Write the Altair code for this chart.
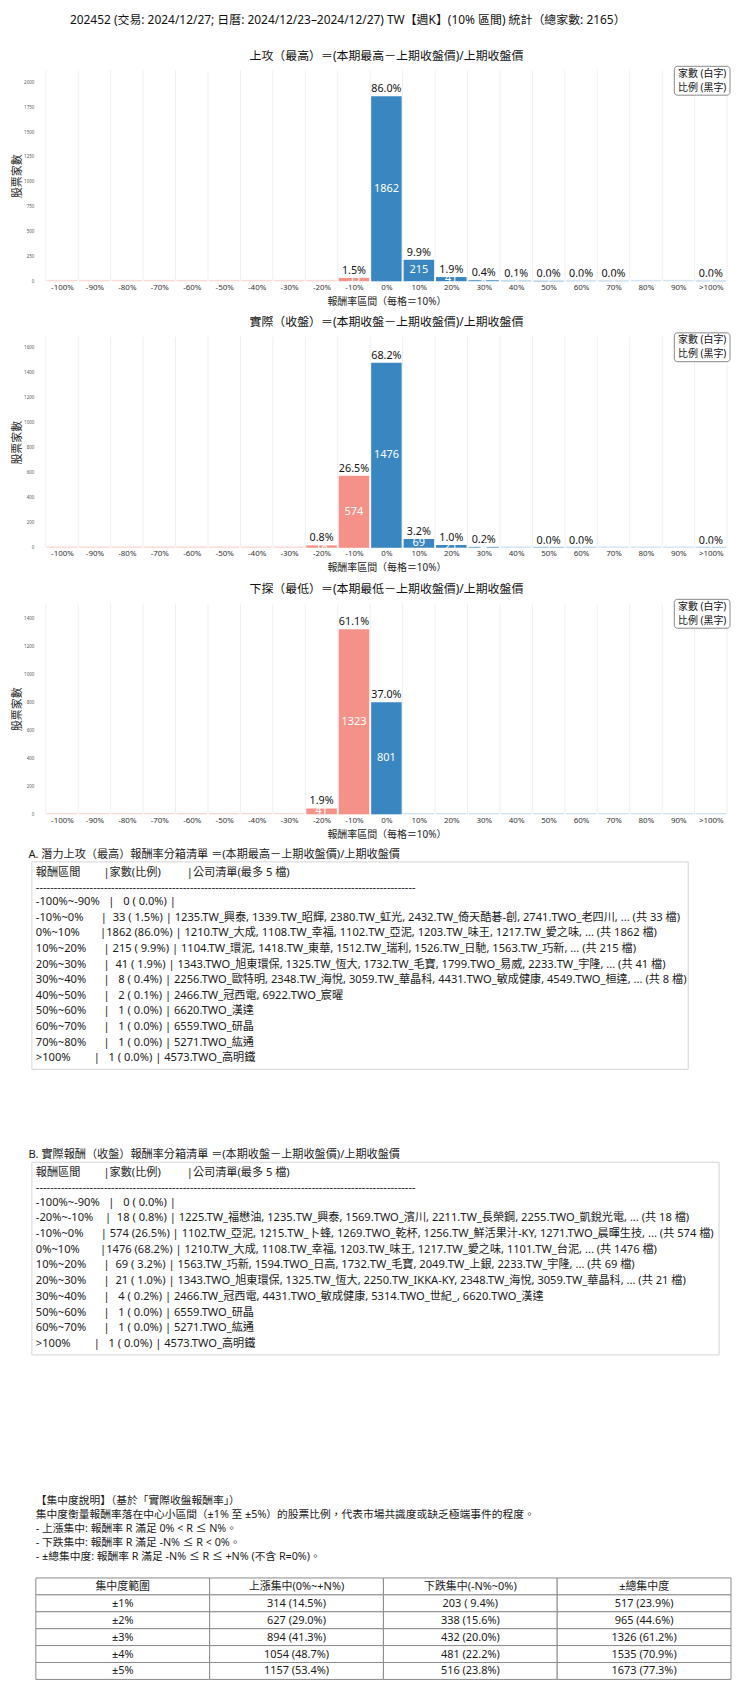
import altair as alt
import pandas as pd

FONT = 'Noto Sans, Noto Sans CJK TC'
NB = '\u00a0'
TOTAL = 2165
RED = '#f4928a'
BLUE = '#3a86c0'
RED_FAINT = '#fbdad6'
BLUE_FAINT = '#d3e5f3'

# ---- data -------------------------------------------------------------
bin_labels = ['-100%', '-90%', '-80%', '-70%', '-60%', '-50%', '-40%', '-30%', '-20%', '-10%',
              '0%', '10%', '20%', '30%', '40%', '50%', '60%', '70%', '80%', '90%', '>100%']
range_labels = ['-100%~-90%', '-90%~-80%', '-80%~-70%', '-70%~-60%', '-60%~-50%', '-50%~-40%',
                '-40%~-30%', '-30%~-20%', '-20%~-10%', '-10%~0%', '0%~10%', '10%~20%',
                '20%~30%', '30%~40%', '40%~50%', '50%~60%', '60%~70%', '70%~80%',
                '80%~90%', '90%~100%', '>100%']

high_counts = [0, 0, 0, 0, 0, 0, 0, 0, 0, 33, 1862, 215, 41, 8, 2, 1, 1, 1, 0, 0, 1]
close_counts = [0, 0, 0, 0, 0, 0, 0, 0, 18, 574, 1476, 69, 21, 4, 0, 1, 1, 0, 0, 0, 1]
low_counts = [0, 0, 0, 0, 0, 0, 0, 0, 41, 1323, 801, 0, 0, 0, 0, 0, 0, 0, 0, 0, 0]

high_companies = {
    '-10%~0%': '1235.TW_興泰, 1339.TW_昭輝, 2380.TW_虹光, 2432.TW_倚天酷碁-創, 2741.TWO_老四川',
    '0%~10%': '1210.TW_大成, 1108.TW_幸福, 1102.TW_亞泥, 1203.TW_味王, 1217.TW_愛之味',
    '10%~20%': '1104.TW_環泥, 1418.TW_東華, 1512.TW_瑞利, 1526.TW_日馳, 1563.TW_巧新',
    '20%~30%': '1343.TWO_旭東環保, 1325.TW_恆大, 1732.TW_毛寶, 1799.TWO_易威, 2233.TW_宇隆',
    '30%~40%': '2256.TWO_歐特明, 2348.TW_海悅, 3059.TW_華晶科, 4431.TWO_敏成健康, 4549.TWO_桓達',
    '40%~50%': '2466.TW_冠西電, 6922.TWO_宸曜',
    '50%~60%': '6620.TWO_漢達',
    '60%~70%': '6559.TWO_研晶',
    '70%~80%': '5271.TWO_紘通',
    '>100%': '4573.TWO_高明鐵',
}
close_companies = {
    '-20%~-10%': '1225.TW_福懋油, 1235.TW_興泰, 1569.TWO_濱川, 2211.TW_長榮鋼, 2255.TWO_凱銳光電',
    '-10%~0%': '1102.TW_亞泥, 1215.TW_卜蜂, 1269.TWO_乾杯, 1256.TW_鮮活果汁-KY, 1271.TWO_晨暉生技',
    '0%~10%': '1210.TW_大成, 1108.TW_幸福, 1203.TW_味王, 1217.TW_愛之味, 1101.TW_台泥',
    '10%~20%': '1563.TW_巧新, 1594.TWO_日高, 1732.TW_毛寶, 2049.TW_上銀, 2233.TW_宇隆',
    '20%~30%': '1343.TWO_旭東環保, 1325.TW_恆大, 2250.TW_IKKA-KY, 2348.TW_海悅, 3059.TW_華晶科',
    '30%~40%': '2466.TW_冠西電, 4431.TWO_敏成健康, 5314.TWO_世紀_, 6620.TWO_漢達',
    '50%~60%': '6559.TWO_研晶',
    '60%~70%': '5271.TWO_紘通',
    '>100%': '4573.TWO_高明鐵',
}

conc_ranges = ['±1%', '±2%', '±3%', '±4%', '±5%']
conc_up = [314, 627, 894, 1054, 1157]
conc_down = [203, 338, 432, 481, 516]
conc_total = [517, 965, 1326, 1535, 1673]
conc_header = ['集中度範圍', '上漲集中(0%~+N%)', '下跌集中(-N%~0%)', '±總集中度']

main_title = '202452 (交易: 2024/12/27; 日曆: 2024/12/23–2024/12/27) TW【週K】(10% 區間) 統計（總家數: 2165）'
chart_titles = ['上攻（最高）＝(本期最高－上期收盤價)/上期收盤價',
                '實際（收盤）＝(本期收盤－上期收盤價)/上期收盤價',
                '下探（最低）＝(本期最低－上期收盤價)/上期收盤價']
x_title = '報酬率區間（每格＝10%）'
heading_a = 'A. 潛力上攻（最高）報酬率分箱清單 ＝(本期最高－上期收盤價)/上期收盤價'
heading_b = 'B. 實際報酬（收盤）報酬率分箱清單 ＝(本期收盤－上期收盤價)/上期收盤價'
notes = ['【集中度說明】（基於「實際收盤報酬率」）',
         '集中度衡量報酬率落在中心小區間（±1% 至 ±5%）的股票比例，代表市場共識度或缺乏極端事件的程度。',
         ' - 上漲集中: 報酬率 R 滿足 0% < R ≤ N%。',
         ' - 下跌集中: 報酬率 R 滿足 -N% ≤ R < 0%。',
         ' - ±總集中度: 報酬率 R 滿足 -N% ≤ R ≤ +N% (不含 R=0%)。']

# ---- layout -----------------------------------------------------------
W = 685
H = 212
PLOT_LEFT = 45      # page x of the plot area
PANEL_TOP = 830     # page y of the text panel


def hist_chart(counts, title):
    df = pd.DataFrame({'idx': list(range(21)), 'label': bin_labels, 'count': counts})
    ymax = max(counts) * 1.14
    step = 250 if max(counts) > 1700 else 200
    xs = alt.Scale(domain=[0, 21], nice=False, zero=False)
    ys = alt.Scale(domain=[0, ymax], nice=False)
    labels_js = '[' + ','.join("'%s'" % s for s in bin_labels) + ']'
    is_neg = 'datum.idx < 10'
    xa = alt.Axis(values=[i + 0.5 for i in range(21)], labelExpr=labels_js + '[floor(datum.value)]',
                  title=x_title, grid=False, domain=False, ticks=False, labelFontSize=8,
                  labelColor='#333', labelPadding=2, titleFontSize=10, titlePadding=5,
                  titleColor='#222', labelOverlap=False, titleFontWeight='normal', zindex=1)
    ya = alt.Axis(values=list(range(0, int(ymax) + 1, step)), format='d', title='股票家數',
                  grid=False, domain=False, ticks=False, labelFontSize=4.5, labelColor='#555',
                  labelPadding=12, titleFontSize=11, titlePadding=1, titleColor='#222',
                  titleFontWeight='normal')

    base = alt.Chart(df).transform_calculate(
        x0='datum.idx + 0.03', x1='datum.idx + 0.97', xc='datum.idx + 0.5',
        zero='0', half='datum.count / 2',
        pct="format(datum.count / %d * 100, '.1f') + '%%'" % TOTAL)

    grid = alt.Chart(pd.DataFrame({'edge': list(range(22))})).mark_rule(
        color='#efefef', strokeWidth=1).encode(
        x=alt.X('edge:Q', scale=xs, axis=xa), y=alt.value(0), y2=alt.value(H))

    floor = base.mark_rule(strokeWidth=1.5).encode(
        x=alt.X('x0:Q', scale=xs, axis=xa), x2='x1:Q', y=alt.value(H - 0.5),
        color=alt.condition(is_neg, alt.value(RED_FAINT), alt.value(BLUE_FAINT)))

    bars = base.mark_bar().encode(
        x=alt.X('x0:Q', scale=xs, axis=xa), x2='x1:Q',
        y=alt.Y('count:Q', scale=ys, axis=ya), y2='zero:Q',
        color=alt.condition(is_neg, alt.value(RED), alt.value(BLUE)))

    nz = base.transform_filter('datum.count > 0')
    pct = nz.mark_text(baseline='bottom', dy=-2, fontSize=10.8, color='#111').encode(
        x=alt.X('xc:Q', scale=xs, axis=xa), y=alt.Y('count:Q', scale=ys, axis=ya),
        text='pct:N')
    num = nz.mark_text(baseline='middle', fontSize=11, color='white').encode(
        x=alt.X('xc:Q', scale=xs, axis=xa), y=alt.Y('half:Q', scale=ys, axis=ya),
        text='count:Q')

    one = pd.DataFrame({'t': ['家數 (白字)\n比例 (黑字)']})
    box = alt.Chart(one).mark_rect(fill='white', stroke='#888', strokeWidth=1,
                                   cornerRadius=3).encode(
        x=alt.value(632), x2=alt.value(688), y=alt.value(-4), y2=alt.value(25))
    box_text = alt.Chart(one).mark_text(lineBreak='\n', lineHeight=14, fontSize=10,
                                        color='#111', baseline='middle').encode(
        x=alt.value(660), y=alt.value(3.5), text='t:N')

    return alt.layer(grid, floor, bars, pct, num, box, box_text).properties(
        width=W, height=H,
        title=alt.TitleParams(title, fontSize=12, fontWeight='normal', offset=3,
                              anchor='middle', color='#111'))


def row_text(i, counts, companies):
    c = counts[i]
    p = '%.1f%%' % (c / TOTAL * 100)
    s = '%s|%4d (%5s) |' % (range_labels[i].ljust(13), c, p)
    names = companies.get(range_labels[i])
    if names:
        s += ' ' + names
        if c > 5:
            s += ', ... (共 %d 檔)' % c
    return s


# ---- text panel -------------------------------------------------------
lines = []
cells = []
boxes = []


def add(x, y, t, fs=11.2, align='left'):
    lines.append({'x': x, 'y': y, 't': t.replace(' ', NB), 'fs': fs, 'al': align})


header = '報酬區間' + ' ' * 8 + '|家數(比例)' + ' ' * 9 + '|公司清單(最多 5 檔)'
dashes = '-' * 106

for heading, counts, comp, top, lh, right in [
        (heading_a, high_counts, high_companies, 842, 15.7, 691),
        (heading_b, close_counts, close_companies, 1144, 15.8, 722)]:
    add(27.5, top - 7, heading, 11.2)
    add(35, top + 11, header)
    add(35, top + 26, dashes)
    rows = [0] + [i for i in range(21) if counts[i] > 0]
    y = top + 40.5
    for k, i in enumerate(rows):
        add(35, y + k * lh, row_text(i, counts, comp))
    boxes.append({'x': 31, 'x2': right, 'y': top, 'y2': y + (len(rows) - 1) * lh + 11})

for k, t in enumerate(notes):
    add(35, 1485 + 14 * k, t, 10.8)

col_edges = [35 + c * (734 - 35) / 4 for c in range(5)]
row_edges = [1562 + r * 17 for r in range(7)]
table_rows = [conc_header] + [
    [conc_ranges[r]] + ['%d (%5s)' % (v[r], '%.1f%%' % (v[r] / TOTAL * 100))
                        for v in (conc_up, conc_down, conc_total)]
    for r in range(5)]
for r, row in enumerate(table_rows):
    for c, t in enumerate(row):
        cells.append({'x': col_edges[c], 'x2': col_edges[c + 1],
                      'y': row_edges[r], 'y2': row_edges[r + 1]})
        add((col_edges[c] + col_edges[c + 1]) / 2, (row_edges[r] + row_edges[r + 1]) / 2 + 0.5,
            t, 11, 'center')

PH = 1668 - PANEL_TOP
px = alt.Scale(domain=[PLOT_LEFT, PLOT_LEFT + W], nice=False, zero=False)
py = alt.Scale(domain=[PANEL_TOP, PANEL_TOP + PH], nice=False, zero=False, reverse=True)

box_layer = alt.Chart(pd.DataFrame(boxes)).mark_rect(
    fill='white', stroke='#d4d4d4', strokeWidth=1).encode(
    x=alt.X('x:Q', scale=px, axis=None), x2='x2:Q',
    y=alt.Y('y:Q', scale=py, axis=None), y2='y2:Q')
cell_layer = alt.Chart(pd.DataFrame(cells)).mark_rect(
    fill='white', stroke='#8a8a8a', strokeWidth=1).encode(
    x=alt.X('x:Q', scale=px, axis=None), x2='x2:Q',
    y=alt.Y('y:Q', scale=py, axis=None), y2='y2:Q')
ldf = pd.DataFrame(lines)
text_left = alt.Chart(ldf[ldf.al == 'left']).mark_text(
    align='left', baseline='middle', color='#1a1a1a').encode(
    x=alt.X('x:Q', scale=px, axis=None), y=alt.Y('y:Q', scale=py, axis=None),
    size=alt.Size('fs:Q', scale=None, legend=None), text='t:N')
text_center = alt.Chart(ldf[ldf.al == 'center']).mark_text(
    align='center', baseline='middle', color='#1a1a1a').encode(
    x=alt.X('x:Q', scale=px, axis=None), y=alt.Y('y:Q', scale=py, axis=None),
    size=alt.Size('fs:Q', scale=None, legend=None), text='t:N')

panel = alt.layer(box_layer, cell_layer, text_left, text_center).properties(width=W, height=PH)

chart = alt.vconcat(
    hist_chart(high_counts, chart_titles[0]),
    hist_chart(close_counts, chart_titles[1]),
    hist_chart(low_counts, chart_titles[2]),
    panel,
    spacing=10,
    title=alt.TitleParams(main_title, fontSize=12, fontWeight='normal', anchor='middle',
                          offset=23, dx=-24, color='#111'),
).properties(padding={'top': 1, 'left': 3, 'right': 0, 'bottom': 0}).configure(
    font=FONT).configure_view(stroke=None)

chart.save('out.html', embed_options={'renderer': 'svg', 'actions': False})
